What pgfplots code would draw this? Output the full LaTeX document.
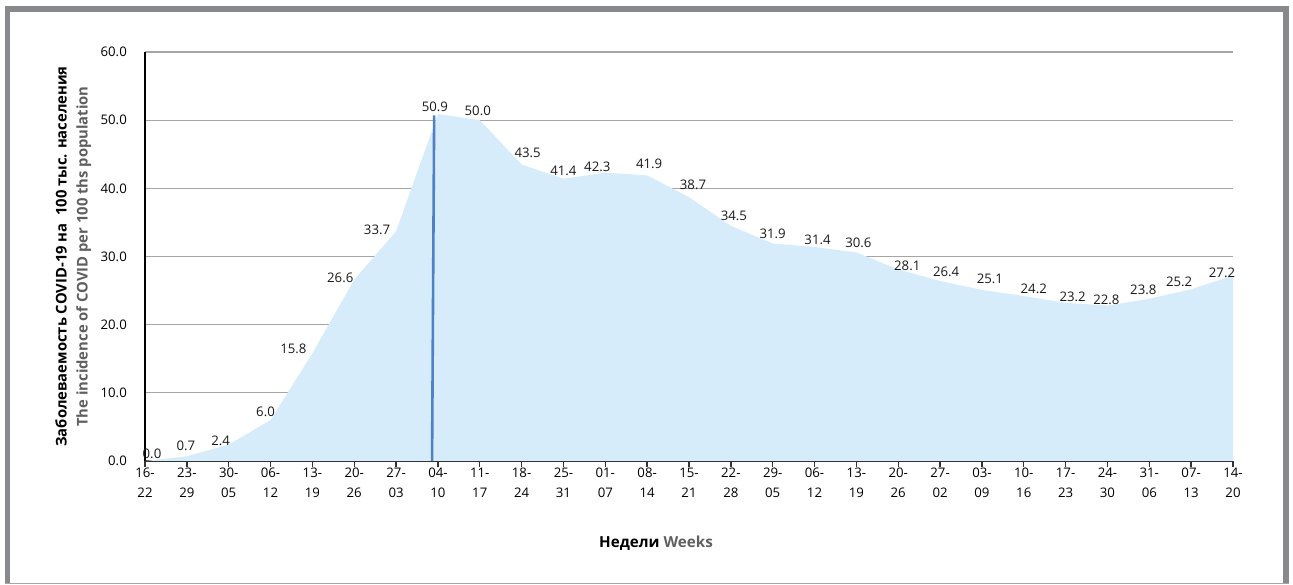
\documentclass[border=0pt]{standalone}
\usepackage{pgfplots}
\pgfplotsset{compat=1.18}
\usepackage{fontspec}
\setmainfont{Open Sans}

\definecolor{framegray}{RGB}{136,137,140}
\definecolor{gridgray}{RGB}{165,165,165}
\definecolor{areablue}{RGB}{214,236,250}
\definecolor{lineblue}{RGB}{79,129,199}
\definecolor{titlegray}{RGB}{95,95,95}

% index, value, label shift (pt)
\pgfplotstableread{
x  y     dx   dy
0  0.0   7    7
1  0.7   -1   10
2  2.4   -8   4
3  6.0   -5   8
4  15.8  -19  4
5  26.6  -14  2
6  33.7  -19  1
7  50.9  -3   7
8  50.0  -2   9
9  43.5  6    12
10 41.4  0    8
11 42.3  -8   6
12 41.9  2    12
13 38.7  4    12
14 34.5  3    10
15 31.9  0    10
16 31.4  3    7
17 30.6  2    10
18 28.1  9    4
19 26.4  6    9
20 25.1  8    11
21 24.2  10   7
22 23.2  7    6
23 22.8  -1   6
24 23.8  -6   9
25 25.2  -12  7
26 27.2  -11  3
}\incidence

\begin{document}
\begin{tikzpicture}[font=\fontsize{13.2}{15}\selectfont]
\useasboundingbox (0,0) rectangle (1293pt,585pt);
% frame
\fill[framegray] (5pt,573pt) rectangle (1289pt,579pt);
\fill[framegray] (5pt,1pt) rectangle (10pt,579pt);
\fill[framegray] (1283pt,1pt) rectangle (1289pt,579pt);
\draw[gray!70, line width=1pt] (5pt,1.5pt) -- (1289pt,1.5pt);

\begin{axis}[
  scale only axis,
  width=1088pt, height=409pt,
  at={(145pt,124pt)}, anchor=south west,
  xmin=0, xmax=26, ymin=0, ymax=60,
  enlargelimits=false,
  clip=false,
  axis x line*=bottom,
  axis y line*=left,
  x axis line style={line width=1.6pt, draw=black!80},
  y axis line style={line width=1.4pt, draw=black},
  ymajorgrids,
  grid style={gridgray, line width=1.2pt},
  ytick={0,10,...,60},
  /pgf/number format/assume math mode=true,
  yticklabel={\pgfmathprintnumber[fixed,fixed zerofill,precision=1]{\tick}},
  yticklabel style={inner sep=0pt, xshift=-12pt, font=\fontsize{13.2}{15}\selectfont},
  ytick style={draw=none},
  xtick={0,...,26},
  xticklabels={{16-\\22},{23-\\29},{30-\\05},{06-\\12},{13-\\19},{20-\\26},{27-\\03},{04-\\10},{11-\\17},{18-\\24},{25-\\31},{01-\\07},{08-\\14},{15-\\21},{22-\\28},{29-\\05},{06-\\12},{13-\\19},{20-\\26},{27-\\02},{03-\\09},{10-\\16},{17-\\23},{24-\\30},{31-\\06},{07-\\13},{14-\\20}},
  xticklabel style={align=center, inner sep=0pt, font=\fontsize{13.2}{19.5}\selectfont, yshift=-1pt},
  x tick style={line width=1.4pt, draw=black!80},
  tick align=outside,
  major tick length=6pt,
]
\addplot[fill=areablue, draw=none] table[x=x, y=y] {\incidence} \closedcycle;
\addplot[lineblue, line width=2.6pt] coordinates {(6.86,0) (6.91,50.7)};
\addplot[draw=none, mark=none,
  nodes near coords={\pgfmathprintnumber[fixed,fixed zerofill,precision=1]{\pgfplotspointmeta}},
  point meta=y,
  visualization depends on={\thisrow{dx}\as\dx},
  visualization depends on={\thisrow{dy}\as\dy},
  every node near coord/.append style={anchor=center, inner sep=0pt, xshift=\dx pt, yshift=\dy pt, font=\fontsize{13.2}{15}\selectfont, text=black!90},
] table[x=x, y=y] {\incidence};

\node[rotate=90, align=center, font=\bfseries\fontsize{14.8}{21}\selectfont]
  at (axis description cs:-0.066,0.5)
  {Заболеваемость COVID-19 на~~100 тыс. населения\\\textcolor{titlegray}{The incidence of COVID per 100 ths population}};
\node[font=\bfseries\fontsize{15.2}{17}\selectfont]
  at (axis description cs:0.4697,-0.2005)
  {Недели \textcolor{titlegray}{Weeks}};
\end{axis}
\end{tikzpicture}
\end{document}
